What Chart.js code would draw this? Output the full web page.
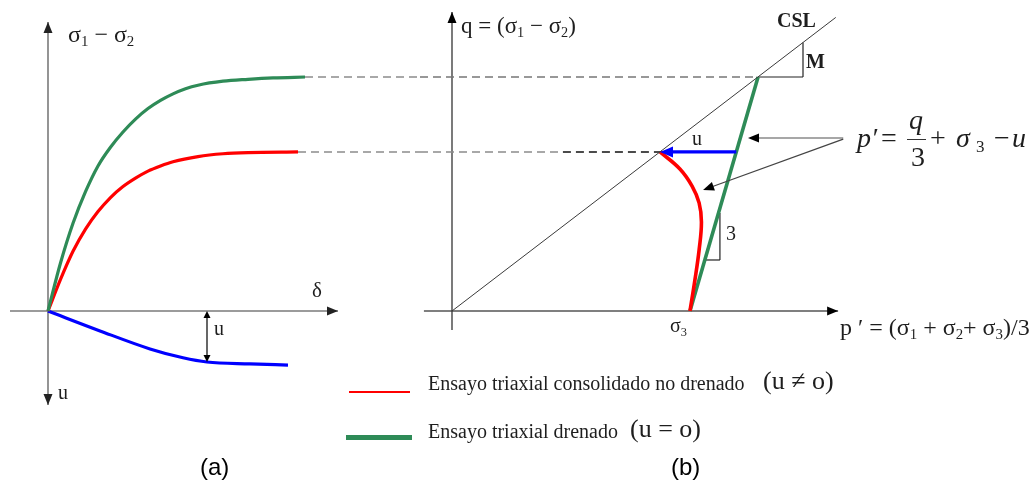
<!DOCTYPE html>
<html>
<head>
<meta charset="utf-8">
<script src="https://cdn.jsdelivr.net/npm/chart.js@4.4.0/dist/chart.umd.min.js"></script>
<style>
  body { margin: 0; background: #fff; }
  #wrap { position: relative; width: 1034px; height: 481px; overflow: hidden;
          font-family: 'Liberation Serif', 'Times New Roman', serif; color: #1e1e1e; }
  canvas { position: absolute; top: 0; }
  #chartA { left: 0; }
  #chartB { left: 420px; }
  .lbl { position: absolute; font-size: 20px; line-height: 1; white-space: nowrap; }
  .lbl sub { font-size: 0.62em; vertical-align: -0.3em; line-height: 0; }
  .it { font-style: italic; }
  .cap { position: absolute; font-family: 'Liberation Sans', Arial, sans-serif; font-size: 24px; line-height: 1; color: #000; }
  .key { position: absolute; }
  .bar { position: absolute; height: 1px; background: #333; }
</style>
</head>
<body>
<div id="wrap">
  <canvas id="chartA" width="420" height="481"></canvas>
  <canvas id="chartB" width="614" height="481"></canvas>

  <!-- (a) labels -->
  <div class="lbl" style="left:68px;top:22px;font-size:24px">σ<sub>1</sub> − σ<sub>2</sub></div>
  <div class="lbl" style="left:312px;top:280px;font-size:21px">δ</div>
  <div class="lbl" style="left:214px;top:318px">u</div>
  <div class="lbl" style="left:58px;top:382px">u</div>

  <!-- (b) labels -->
  <div class="lbl" style="left:461px;top:14px;font-size:23px">q = (σ<sub>1</sub> − σ<sub>2</sub>)</div>
  <div class="lbl" style="left:777px;top:10px;font-weight:bold">CSL</div>
  <div class="lbl" style="left:806px;top:51px;font-weight:bold">M</div>
  <div class="lbl" style="left:692px;top:128px">u</div>
  <div class="lbl" style="left:726px;top:223px">3</div>
  <div class="lbl" style="left:670px;top:315px">σ<sub>3</sub></div>
  <div class="lbl" style="left:840px;top:315px;font-size:24px">p ′ = (σ<sub>1</sub> + σ<sub>2</sub>+ σ<sub>3</sub>)/3</div>

  <!-- p' expression -->
  <div class="lbl it" style="left:857px;top:124px;font-size:28px">p′</div>
  <div class="lbl" style="left:881px;top:124px;font-size:28px">=</div>
  <div class="lbl it" style="left:909px;top:106px;font-size:28px">q</div>
  <div class="bar" style="left:907px;top:139px;width:19px"></div>
  <div class="lbl" style="left:911px;top:143px;font-size:28px">3</div>
  <div class="lbl" style="left:930px;top:124px;font-size:28px">+</div>
  <div class="lbl it" style="left:956px;top:124px;font-size:28px">σ</div>
  <div class="lbl" style="left:976px;top:138px;font-size:17px">3</div>
  <div class="lbl" style="left:994px;top:124px;font-size:28px">−</div>
  <div class="lbl it" style="left:1012px;top:124px;font-size:28px">u</div>

  <!-- key -->
  <div class="key" style="left:349px;top:391px;width:61px;height:2px;background:#ff0000"></div>
  <div class="lbl" style="left:428px;top:373px">Ensayo triaxial consolidado no drenado</div>
  <div class="lbl" style="left:763px;top:368px;font-size:26px">(u ≠ o)</div>
  <div class="key" style="left:346px;top:435px;width:66px;height:5px;background:#2e8b57"></div>
  <div class="lbl" style="left:428px;top:421px">Ensayo triaxial drenado</div>
  <div class="lbl" style="left:630px;top:416px;font-size:26px">(u = o)</div>

  <div class="cap" style="left:200px;top:455px">(a)</div>
  <div class="cap" style="left:671px;top:455px">(b)</div>
</div>

<script>
// ── Data: (a) stress / strain and pore pressure ───────────────────────
const deltaDrained = [0, 0.5, 1, 1.5, 2, 2.5, 3, 3.5, 4, 4.5, 5, 5.5, 6, 7, 8, 9, 10.28];
const qDrained     = [0, 2.05, 3.75, 5.1, 6.2, 7.0, 7.65, 8.2, 8.65, 9.0, 9.28, 9.5, 9.65, 9.82, 9.9, 9.96, 10.0];

const deltaUndrained = [0, 0.5, 1, 1.5, 2, 2.5, 3, 3.5, 4, 4.5, 5, 6, 7, 8, 10];
const qUndrained     = [0, 1.35, 2.55, 3.5, 4.25, 4.85, 5.32, 5.68, 5.98, 6.2, 6.38, 6.6, 6.72, 6.77, 6.8];

const deltaPore = [0, 2.08, 4.08, 5.4, 6.36, 8.08, 9.6];
const uPore     = [0, -0.85, -1.62, -2.0, -2.18, -2.26, -2.31];
const uMarkIndex = 4;

// ── Data: (b) stress paths in p'-q ────────────────────────────────────
const sigma3 = 10.17;
const slopeM = 0.765;
const pCSL = [0, 16.4];
const qCSL = pCSL.map(p => p * slopeM);

const pDrainedPath = [sigma3, 13.08];
const qDrainedPath = [0, 10.0];

const pUndrainedPath = [sigma3, 10.38, 10.56, 10.66, 10.56, 10.26, 9.74, 8.89];
const qUndrainedPath = [0, 1.32, 2.61, 3.80, 4.62, 5.34, 6.07, 6.8];

// ── Shared layout (both panels use the same vertical mapping) ─────────
const PX = 23.4;          // pixels per stress unit
const ORIGIN_Y = 311;     // pixel row of q = 0
const H = 481;
const yRange = { min: -(H - ORIGIN_Y) / PX, max: ORIGIN_Y / PX };

const GREEN = '#2e8b57';
const RED = '#ff0000';
const BLUE = '#0000ff';

const pts = (xs, ys) => xs.map((x, i) => ({ x, y: ys[i] }));

function arrowHead(ctx, x1, y1, x2, y2, len, half, color) {
  const a = Math.atan2(y2 - y1, x2 - x1);
  ctx.save();
  ctx.fillStyle = color;
  ctx.beginPath();
  ctx.moveTo(x2, y2);
  ctx.lineTo(x2 - len * Math.cos(a) + half * Math.sin(a), y2 - len * Math.sin(a) - half * Math.cos(a));
  ctx.lineTo(x2 - len * Math.cos(a) - half * Math.sin(a), y2 - len * Math.sin(a) + half * Math.cos(a));
  ctx.closePath();
  ctx.fill();
  ctx.restore();
}

function segment(ctx, x1, y1, x2, y2, color, width, dash) {
  ctx.save();
  ctx.strokeStyle = color;
  ctx.lineWidth = width;
  ctx.setLineDash(dash || []);
  ctx.beginPath();
  ctx.moveTo(x1, y1);
  ctx.lineTo(x2, y2);
  ctx.stroke();
  ctx.restore();
}

function baseOptions(xMin, xMax) {
  return {
    responsive: false,
    animation: false,
    layout: { padding: 0 },
    plugins: { legend: { display: false }, tooltip: { enabled: false } },
    elements: { point: { radius: 0 } },
    scales: {
      x: { type: 'linear', display: false, min: xMin, max: xMax },
      y: { type: 'linear', display: false, min: yRange.min, max: yRange.max }
    }
  };
}

// ── (a) ───────────────────────────────────────────────────────────────
const axesA = {
  id: 'axesA',
  beforeDatasetsDraw(chart) {
    const { ctx, scales: { x, y } } = chart;
    const x0 = x.getPixelForValue(0), y0 = y.getPixelForValue(0);
    const gray = '#7a7a7a';
    // horizontal δ axis and vertical axis (σ1 - σ2 up, u down)
    segment(ctx, x.getPixelForValue(-1.52), y0, x.getPixelForValue(11.6), y0, gray, 1.6);
    arrowHead(ctx, x0, y0, x.getPixelForValue(11.6), y0, 11, 4.5, '#222');
    segment(ctx, x0, y.getPixelForValue(-4.02), x0, y.getPixelForValue(12.35), gray, 1.6);
    arrowHead(ctx, x0, y0, x0, y.getPixelForValue(12.35), 11, 4.5, '#222');
    arrowHead(ctx, x0, y0, x0, y.getPixelForValue(-4.02), 11, 4.5, '#222');

    // dashed projections towards (b)
    const gEnd = deltaDrained.length - 1, rEnd = deltaUndrained.length - 1;
    segment(ctx, x.getPixelForValue(deltaDrained[gEnd]), y.getPixelForValue(qDrained[gEnd]),
      chart.width, y.getPixelForValue(qDrained[gEnd]), '#8c8c8c', 1.5, [8, 5]);
    segment(ctx, x.getPixelForValue(deltaUndrained[rEnd]), y.getPixelForValue(qUndrained[rEnd]),
      chart.width, y.getPixelForValue(qUndrained[rEnd]), '#8c8c8c', 1.5, [8, 5]);
  },
  afterDatasetsDraw(chart) {
    const { ctx, scales: { x, y } } = chart;
    // pore pressure marker
    const xm = x.getPixelForValue(deltaPore[uMarkIndex]);
    const ya = y.getPixelForValue(0), yb = y.getPixelForValue(uPore[uMarkIndex]);
    segment(ctx, xm, ya + 2, xm, yb - 2, '#000', 1.2);
    arrowHead(ctx, xm, yb, xm, ya, 7, 3.5, '#000');
    arrowHead(ctx, xm, ya, xm, yb, 7, 3.5, '#000');
  }
};

new Chart(document.getElementById('chartA'), {
  type: 'scatter',
  data: {
    datasets: [
      { data: pts(deltaDrained, qDrained), showLine: true, borderColor: GREEN, borderWidth: 3.2, cubicInterpolationMode: 'monotone' },
      { data: pts(deltaUndrained, qUndrained), showLine: true, borderColor: RED, borderWidth: 3.2, cubicInterpolationMode: 'monotone' },
      { data: pts(deltaPore, uPore), showLine: true, borderColor: BLUE, borderWidth: 3.2, cubicInterpolationMode: 'monotone' }
    ]
  },
  options: baseOptions(-48 / 25, (420 - 48) / 25),
  plugins: [axesA]
});

// ── (b) ───────────────────────────────────────────────────────────────
const uArrowFrom = sigma3 + qUndrainedPath[qUndrainedPath.length - 1] *
  (pDrainedPath[1] - pDrainedPath[0]) / (qDrainedPath[1] - qDrainedPath[0]);

const axesB = {
  id: 'axesB',
  beforeDatasetsDraw(chart) {
    const { ctx, scales: { x, y } } = chart;
    const x0 = x.getPixelForValue(0), y0 = y.getPixelForValue(0);
    segment(ctx, x.getPixelForValue(-1.2), y0, x.getPixelForValue(16.5), y0, '#555', 1.3);
    arrowHead(ctx, x0, y0, x.getPixelForValue(16.5), y0, 11, 4.5, '#000');
    segment(ctx, x0, y.getPixelForValue(-0.81), x0, y.getPixelForValue(12.78), '#333', 1.3);
    arrowHead(ctx, x0, y0, x0, y.getPixelForValue(12.78), 11, 4.5, '#000');

    // dashed projections coming from (a)
    const qg = qDrainedPath[1], qr = qUndrainedPath[qUndrainedPath.length - 1];
    segment(ctx, 0, y.getPixelForValue(qg), x.getPixelForValue(qg / slopeM), y.getPixelForValue(qg), '#777', 1.5, [8, 5]);
    segment(ctx, 0, y.getPixelForValue(qr), x.getPixelForValue(4.74), y.getPixelForValue(qr), '#8c8c8c', 1.5, [8, 5]);
    segment(ctx, x.getPixelForValue(4.74), y.getPixelForValue(qr), x.getPixelForValue(qr / slopeM), y.getPixelForValue(qr), '#111', 1.5, [8, 5]);

    // slope triangles
    const pm = 15.0;
    segment(ctx, x.getPixelForValue(pDrainedPath[1]), y.getPixelForValue(qg), x.getPixelForValue(pm), y.getPixelForValue(qg), '#222', 1.2);
    segment(ctx, x.getPixelForValue(pm), y.getPixelForValue(qg), x.getPixelForValue(pm), y.getPixelForValue(pm * slopeM), '#222', 1.2);
    const q3lo = 2.18, q3hi = 4.19, p3 = 11.45;
    const pOnGreen = sigma3 + q3lo * (pDrainedPath[1] - sigma3) / qDrainedPath[1];
    segment(ctx, x.getPixelForValue(pOnGreen), y.getPixelForValue(q3lo), x.getPixelForValue(p3), y.getPixelForValue(q3lo), '#222', 1.2);
    segment(ctx, x.getPixelForValue(p3), y.getPixelForValue(q3lo), x.getPixelForValue(p3), y.getPixelForValue(q3hi), '#222', 1.2);
  },
  afterDatasetsDraw(chart) {
    const { ctx, scales: { x, y } } = chart;
    const qr = qUndrainedPath[qUndrainedPath.length - 1];
    const pr = pUndrainedPath[pUndrainedPath.length - 1];
    // u: horizontal shift between drained and undrained paths
    const ya = y.getPixelForValue(qr);
    const xs = x.getPixelForValue(uArrowFrom), xe = x.getPixelForValue(pr);
    segment(ctx, xs, ya, xe + 10, ya, BLUE, 3.2);
    arrowHead(ctx, xs, ya, xe, ya, 13, 5.5, BLUE);

    // pointers from the p' expression
    const sx = x.getPixelForValue(16.72), sy = y.getPixelForValue(7.39);
    const t1x = x.getPixelForValue(12.65), t2x = x.getPixelForValue(10.73), t2y = y.getPixelForValue(5.17);
    segment(ctx, sx, sy, t1x + 8, sy, '#8a8a8a', 1.6);
    arrowHead(ctx, sx, sy, t1x, sy, 11, 4.5, '#000');
    const a = Math.atan2(t2y - sy, t2x - sx);
    segment(ctx, sx, sy + 1, t2x - 8 * Math.cos(a), t2y - 8 * Math.sin(a), '#444', 1.3);
    arrowHead(ctx, sx, sy + 1, t2x, t2y, 11, 4.5, '#000');
  }
};

new Chart(document.getElementById('chartB'), {
  type: 'scatter',
  data: {
    datasets: [
      { data: pts(pCSL, qCSL), showLine: true, borderColor: '#3a3a3a', borderWidth: 1 },
      { data: pts(pUndrainedPath, qUndrainedPath), showLine: true, borderColor: RED, borderWidth: 3.6, tension: 0.4 },
      { data: pts(pDrainedPath, qDrainedPath), showLine: true, borderColor: GREEN, borderWidth: 3.6 }
    ]
  },
  options: baseOptions(-32 / PX, (614 - 32) / PX),
  plugins: [axesB]
});
</script>
</body>
</html>
